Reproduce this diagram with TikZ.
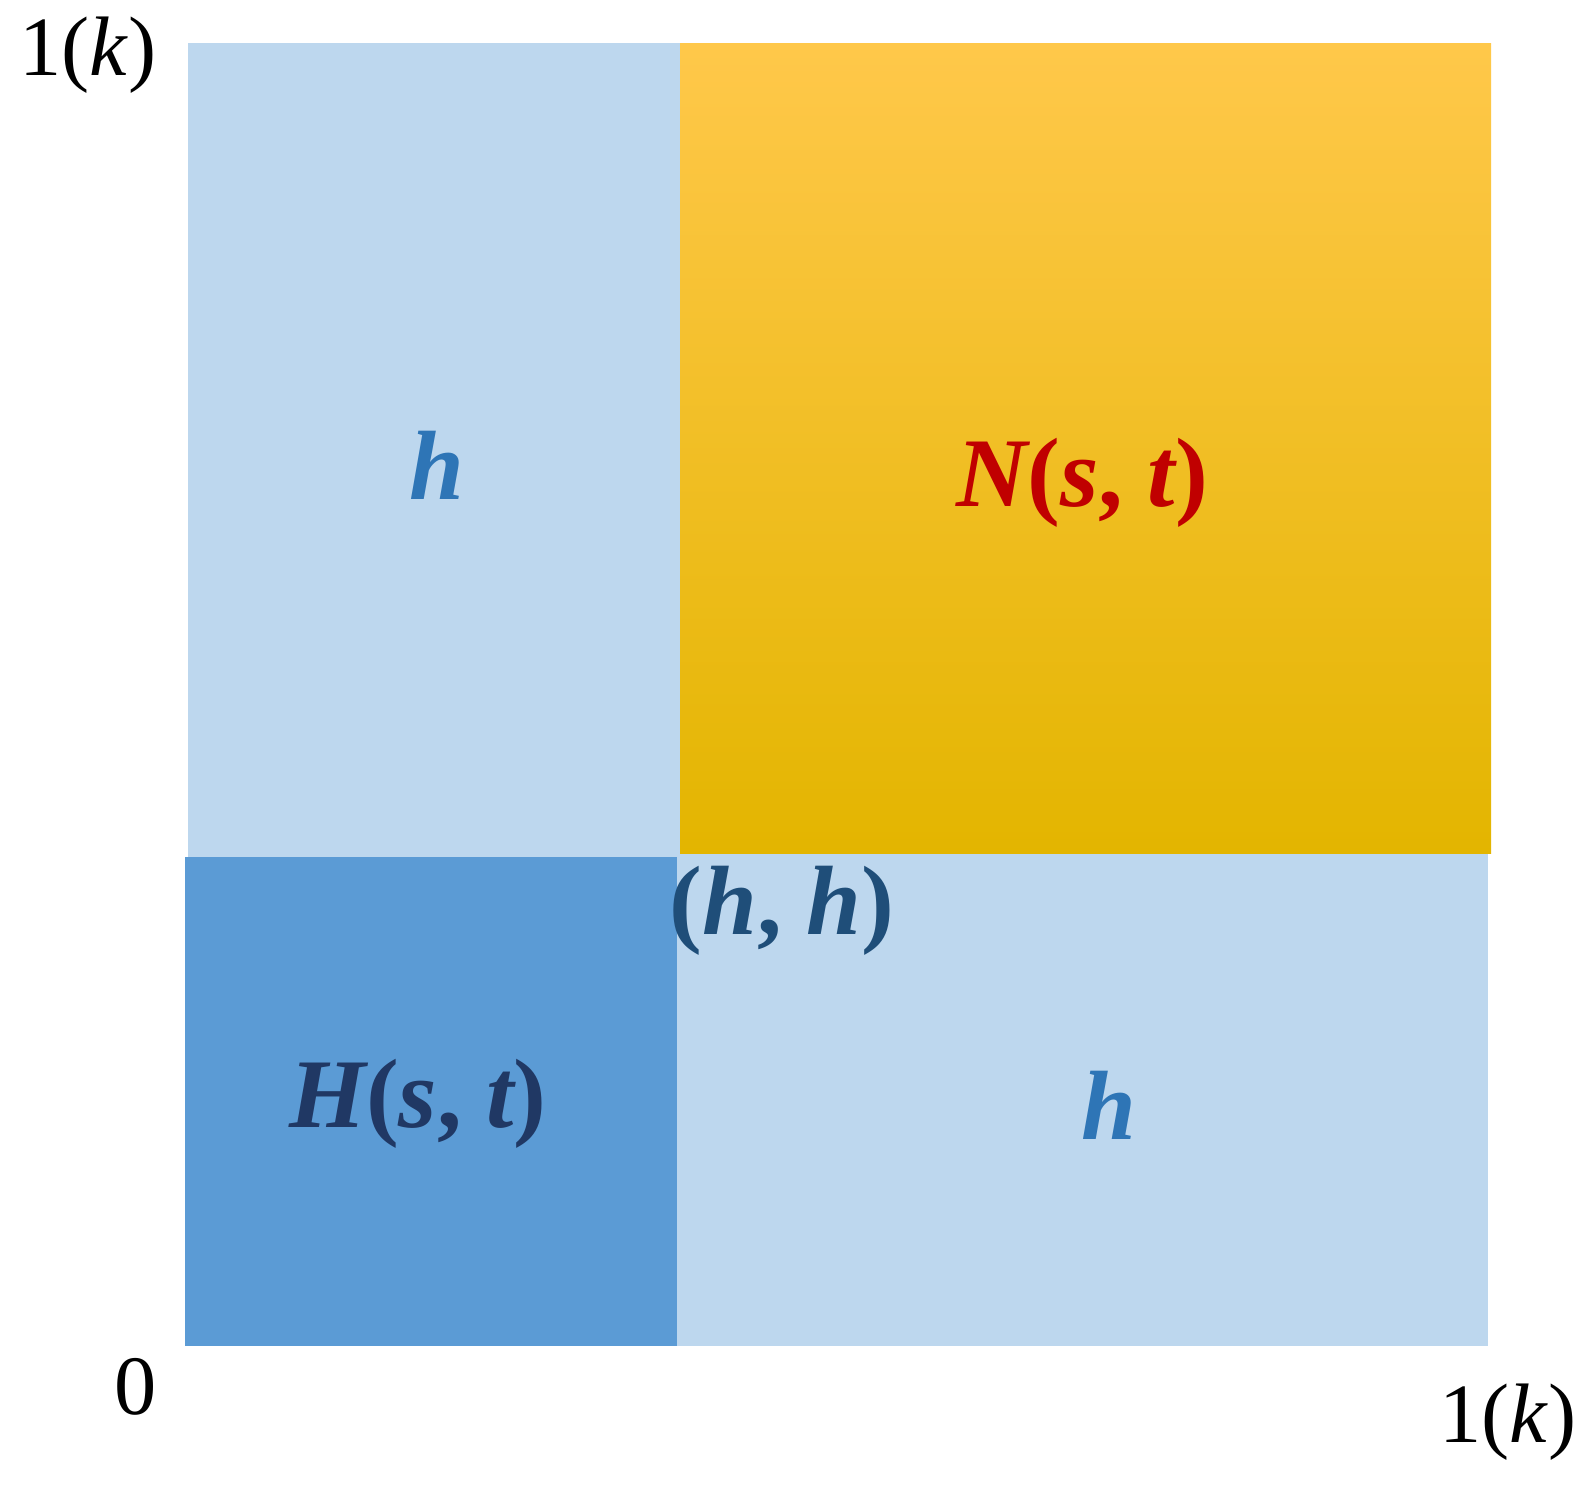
\documentclass[tikz,border=0pt]{standalone}
\usepackage{fontspec}
\setmainfont{Liberation Serif}
\definecolor{lightblue}{HTML}{BDD7EE}
\definecolor{darkblue}{HTML}{5B9BD5}
\definecolor{orangetop}{HTML}{FFC84A}
\definecolor{orangemid}{HTML}{FFC800}
\definecolor{orangebot}{HTML}{E3B500}
\definecolor{hblue}{HTML}{2E75B6}
\definecolor{hhblue}{HTML}{1F4E79}
\definecolor{Hnavy}{HTML}{203864}
\definecolor{Nred}{HTML}{C00000}
\newcommand{\upP}[1]{{\upshape #1}}
\tikzset{
  axislabel/.style={font=\fontsize{24}{28}\selectfont, text=black, inner sep=0pt},
  celllabel/.style={font=\fontsize{28}{32}\selectfont\bfseries\itshape, inner sep=0pt},
}
\begin{document}
\begin{tikzpicture}[x=0.01cm,y=-0.01cm]
\useasboundingbox (0,0) rectangle (1585,1484);
\fill[white] (0,0) rectangle (1585,1484);
% cells
\fill[lightblue] (188,43) rectangle (681,857);
\fill[lightblue] (677,853) rectangle (1488,1346);
\shade[top color=orangetop, middle color=orangemid, bottom color=orangebot] (680,43) rectangle (1491,853);
\fill[darkblue] (185,857) rectangle (677,1346);
% labels
\node[celllabel, text=hblue] (hTop) at (437,465) {h};
\node[celllabel, text=Nred] (N) at (1082,483) {N\upP{(}s\upP{,} t\upP{)}};
\node[celllabel, text=hhblue] (hh) at (782,911) {\upP{(}h\upP{,} h\upP{)}};
\node[celllabel, text=Hnavy] (H) at (418,1104) {H\upP{(}s\upP{,} t\upP{)}};
\node[celllabel, text=hblue] (hBot) at (1109,1105) {h};
\node[axislabel] (zero) at (136,1387) {0};
\node[axislabel] (oneY) at (88,55) {1(\textit{k})};
\node[axislabel] (oneX) at (1508,1422) {1(\textit{k})};
\end{tikzpicture}
\end{document}
